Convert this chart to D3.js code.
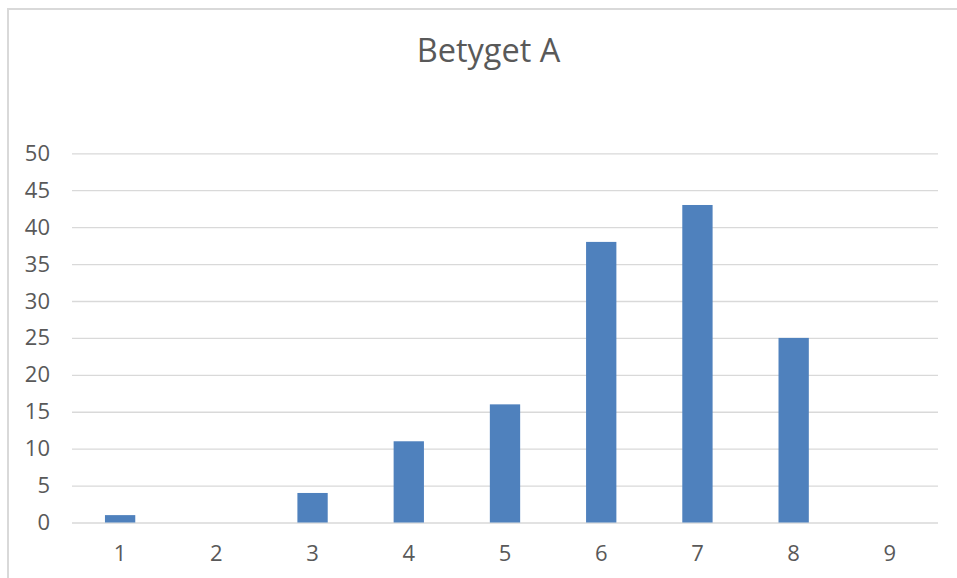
<!DOCTYPE html>
<html><head><meta charset="utf-8">
<script src="https://cdn.jsdelivr.net/npm/d3@7"></script>
<style>body{margin:0;background:#fff}svg{display:block}</style>
</head><body>
<svg id="chart" width="957" height="578"></svg>
<script>
const title = "Betyget A";
const categories = ["1","2","3","4","5","6","7","8","9"];
const values = [1, 0, 4, 11, 16, 38, 43, 25, 0];
const yTicks = [0, 5, 10, 15, 20, 25, 30, 35, 40, 45, 50];

const svg = d3.select("#chart");
const W = 957, H = 578;
const m = {left: 72, right: 19, top: 153, bottom: 55};

svg.append("rect").attr("x", 8).attr("y", 9).attr("width", W + 10).attr("height", H + 10)
  .attr("fill", "#fff").attr("stroke", "#d9d9d9").attr("stroke-width", 2);

const x = d3.scaleBand().domain(categories).range([m.left, W - m.right]).paddingInner(0).paddingOuter(0);
const y = d3.scaleLinear().domain([0, 50]).range([522.5, 153.3]);

const font = "'Open Sans', 'Liberation Sans', sans-serif";

svg.append("text").attr("x", 488.5).attr("y", 62).attr("text-anchor", "middle")
  .attr("font-family", font).attr("font-size", 32.5).attr("fill", "#595959").text(title);

const yAxis = d3.axisLeft(y).tickValues(yTicks).tickSize(-(W - m.right - m.left)).tickPadding(22);
const gy = svg.append("g").attr("transform", `translate(${m.left},0)`).call(yAxis);
gy.select(".domain").remove();
gy.attr("font-size", 22).attr("font-family", font);
gy.selectAll(".tick line").attr("stroke", "#d9d9d9").attr("stroke-width", 1.3);
gy.selectAll(".tick text").style("font-size", "22px").attr("fill", "#595959");

const xAxis = d3.axisBottom(x).tickSize(0).tickPadding(23);
const gx = svg.append("g").attr("transform", `translate(0,${y(0)})`).call(xAxis);
gx.select(".domain").remove();
gx.attr("font-size", 22).attr("font-family", font);
gx.selectAll(".tick text").style("font-size", "22px").attr("fill", "#595959");

const bw = x.bandwidth() * 0.315;
svg.append("g").selectAll("rect").data(values).join("rect")
  .attr("x", (d, i) => x(categories[i]) + x.bandwidth() / 2 - bw / 2)
  .attr("width", bw)
  .attr("y", d => y(d))
  .attr("height", d => y(0) - y(d))
  .attr("fill", "#4f81bd");
</script>
</body></html>
